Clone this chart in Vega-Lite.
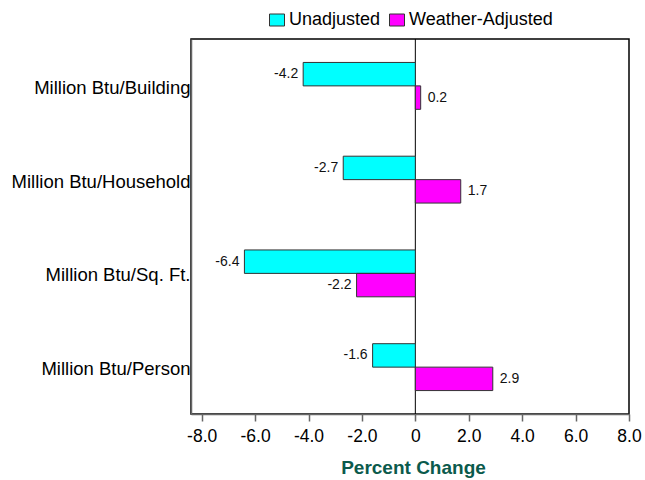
{
  "$schema": "https://vega.github.io/schema/vega-lite/v6.json",
  "width": 438,
  "height": 375,
  "autosize": {"type": "none"},
  "padding": {"left": 191, "top": 39, "right": 16, "bottom": 66},
  "background": "white",
  "data": {
    "values": [
      {"measure": "Million Btu/Building", "series": "Unadjusted", "value": -4.2},
      {"measure": "Million Btu/Building", "series": "Weather-Adjusted", "value": 0.2},
      {"measure": "Million Btu/Household", "series": "Unadjusted", "value": -2.7},
      {"measure": "Million Btu/Household", "series": "Weather-Adjusted", "value": 1.7},
      {"measure": "Million Btu/Sq. Ft.", "series": "Unadjusted", "value": -6.4},
      {"measure": "Million Btu/Sq. Ft.", "series": "Weather-Adjusted", "value": -2.2},
      {"measure": "Million Btu/Person", "series": "Unadjusted", "value": -1.6},
      {"measure": "Million Btu/Person", "series": "Weather-Adjusted", "value": 2.9}
    ]
  },
  "encoding": {
    "y": {
      "field": "measure",
      "type": "nominal",
      "sort": ["Million Btu/Building", "Million Btu/Household", "Million Btu/Sq. Ft.", "Million Btu/Person"],
      "scale": {"paddingInner": 0.5, "paddingOuter": 0.25},
      "axis": {
        "title": null,
        "ticks": false,
        "labelPadding": 1,
        "labelFont": "Liberation Sans",
        "labelFontSize": 18.5,
        "labelColor": "#000000",
        "labelLimit": 300,
        "labelOffset": 2,
        "domainColor": "#666666",
        "domainWidth": 1.5
      }
    },
    "yOffset": {
      "field": "series",
      "type": "nominal",
      "sort": ["Unadjusted", "Weather-Adjusted"]
    },
    "x": {
      "field": "value",
      "type": "quantitative",
      "scale": {"domain": [-8.4, 8], "nice": false, "zero": false},
      "axis": {
        "title": "Percent Change",
        "titleFont": "Liberation Sans",
        "titleFontSize": 19,
        "titleFontWeight": "bold",
        "titleColor": "#0b5a4c",
        "titlePadding": 14,
        "titleX": 222,
        "values": [-8, -6, -4, -2, 0, 2, 4, 6, 8],
        "labelExpr": "datum.value == 0 ? '0' : replace(format(datum.value, '.1f'), '\u2212', '-')",
        "labelFont": "Liberation Sans",
        "labelFontSize": 17.5,
        "labelColor": "#000000",
        "labelPadding": 6,
        "labelFlush": false,
        "tickSize": 7,
        "tickColor": "#666666",
        "tickWidth": 1.5,
        "domainColor": "#666666",
        "domainWidth": 1.5,
        "grid": false
      }
    }
  },
  "layer": [
    {
      "mark": {"type": "rule", "color": "#000000", "strokeWidth": 1},
      "data": {"values": [{"z": 0}]},
      "encoding": {
        "x": {"field": "z", "type": "quantitative"},
        "y": null,
        "yOffset": null
      }
    },
    {
      "mark": {"type": "bar", "stroke": "#333333", "strokeWidth": 1},
      "encoding": {
        "color": {
          "field": "series",
          "type": "nominal",
          "scale": {"domain": ["Unadjusted", "Weather-Adjusted"], "range": ["#00FFFF", "#FF00FF"]},
          "legend": {
            "title": null,
            "orient": "top",
            "direction": "horizontal",
            "symbolType": "M-1,-0.8H1V0.8H-1Z",
            "symbolSize": 225,
            "symbolStrokeColor": "#333333",
            "symbolStrokeWidth": 1,
            "symbolOpacity": 1,
            "labelFont": "Liberation Sans",
            "labelFontSize": 18,
            "labelColor": "#000000",
            "columnPadding": 6,
            "labelOffset": 3,
            "offset": 10
          }
        }
      }
    },
    {
      "transform": [
        {"filter": "datum.value < 0"},
        {"calculate": "replace(format(datum.value, '.1f'), '\u2212', '-')", "as": "label"}
      ],
      "mark": {"type": "text", "align": "right", "baseline": "middle", "dx": -5, "font": "Liberation Sans", "fontSize": 14, "color": "#111111"},
      "encoding": {"text": {"field": "label", "type": "nominal"}}
    },
    {
      "transform": [
        {"filter": "datum.value >= 0"},
        {"calculate": "format(datum.value, '.1f')", "as": "label"}
      ],
      "mark": {"type": "text", "align": "left", "baseline": "middle", "dx": 7, "font": "Liberation Sans", "fontSize": 14, "color": "#111111"},
      "encoding": {"text": {"field": "label", "type": "nominal"}}
    }
  ],
  "config": {
    "view": {"stroke": "#000000", "strokeWidth": 1.5},
    "legend": {"layout": {"top": {"anchor": "middle"}}}
  }
}
